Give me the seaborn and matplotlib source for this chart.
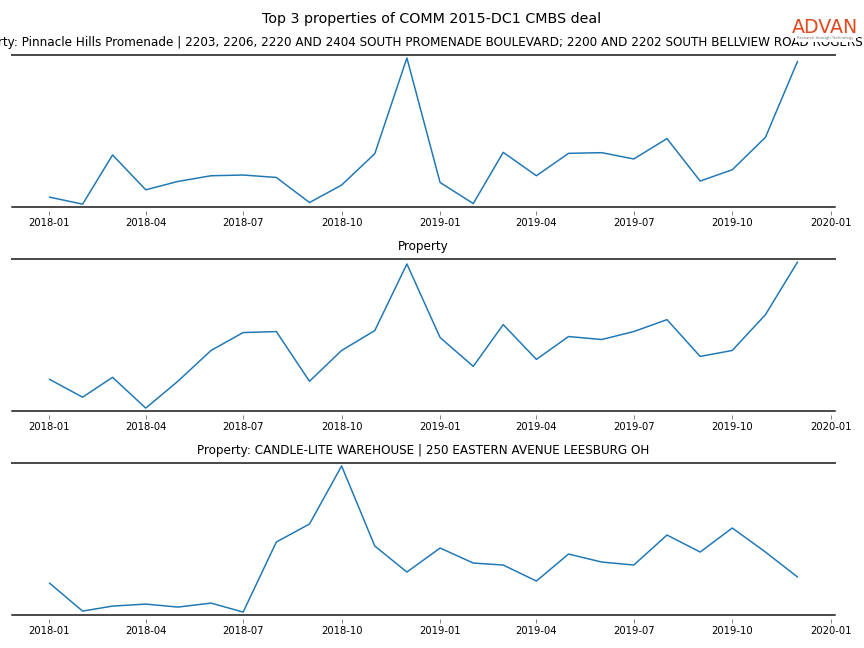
import pandas as pd
import seaborn as sns
import matplotlib.pyplot as plt
import matplotlib.dates as mdates

# monthly foot traffic (relative units) for the top 3 properties
months = pd.date_range("2018-01-01", periods=24, freq="MS")

pinnacle = [9.7, 2.7, 51.7, 17, 25.3, 31, 31.7, 29.3, 4.3, 21.7, 53, 148.3,
            24.3, 3.3, 54.3, 31, 53.3, 54, 47.7, 68, 25.7, 37, 69.3, 145]
second = [31, 13, 33, 2, 29, 60, 78, 79, 29, 60, 80, 147,
          73, 44, 86, 51, 74, 71, 79, 91, 54, 60, 96, 149]
candle = [31, 3, 8, 10, 7, 11, 2, 72, 90, 148, 68, 42,
          66, 51, 49, 33, 60, 52, 49, 79, 62, 86, 62, 37]

titles = [
    "Property: Pinnacle Hills Promenade | 2203, 2206, 2220 AND 2404 SOUTH PROMENADE BOULEVARD; "
    "2200 AND 2202 SOUTH BELLVIEW ROAD ROGERS AR",
    "Property",
    "Property: CANDLE-LITE WAREHOUSE | 250 EASTERN AVENUE LEESBURG OH",
]

sns.set_style("ticks")
plt.rcParams['font.family'] = ['DejaVu Sans']
plt.rcParams['text.color'] = 'black'
plt.rcParams['xtick.labelcolor'] = 'black'

fig, axes = plt.subplots(3, 1, figsize=(12, 9), dpi=72)
fig.subplots_adjust(left=0.0139, right=0.9664, top=0.915, bottom=0.0509, hspace=0.342)

for ax, vals, title in zip(axes, [pinnacle, second, candle], titles):
    df = pd.DataFrame({"month": months, "visits": vals})
    sns.lineplot(data=df, x="month", y="visits", ax=ax, color="#1f77b4", linewidth=1.5)
    ax.margins(y=0.02)
    ax.set_title(title, fontsize=12, color="black", pad=9)
    ax.set_xlabel("")
    ax.set_ylabel("")
    ax.set_yticks([])
    ax.xaxis.set_major_locator(mdates.MonthLocator(bymonth=[1, 4, 7, 10]))
    ax.xaxis.set_major_formatter(mdates.DateFormatter("%Y-%m"))
    ax.tick_params(axis="x", labelsize=10, length=3.5, width=0.8, color="#666666",
                   labelcolor="black", pad=3)
    for s in ["left", "right", "bottom"]:
        ax.spines[s].set_visible(False)
    ax.spines["bottom"].set_position(("outward", 4))
    ax.spines["top"].set_color("#4d4d4d")
    ax.spines["top"].set_linewidth(2)
    ax.plot([0, 1], [0, 0], transform=ax.transAxes, color="#4d4d4d", lw=2, clip_on=False)

fig.suptitle("Top 3 properties of COMM 2015-DC1 CMBS deal", fontsize=14.2, y=0.982, color="black")

# logo
fig.text(0.9545, 0.957, "ADVAN", fontsize=19, color="#e0481e", ha="center", va="center",
         fontweight="medium", bbox=dict(facecolor="white", edgecolor="none", pad=0.5))
fig.text(0.9545, 0.941, "Research through Technology", fontsize=3.8, color="#777777",
         ha="center", va="center", bbox=dict(facecolor="white", edgecolor="none", pad=1.5))

plt.savefig("out.png", dpi=72)
